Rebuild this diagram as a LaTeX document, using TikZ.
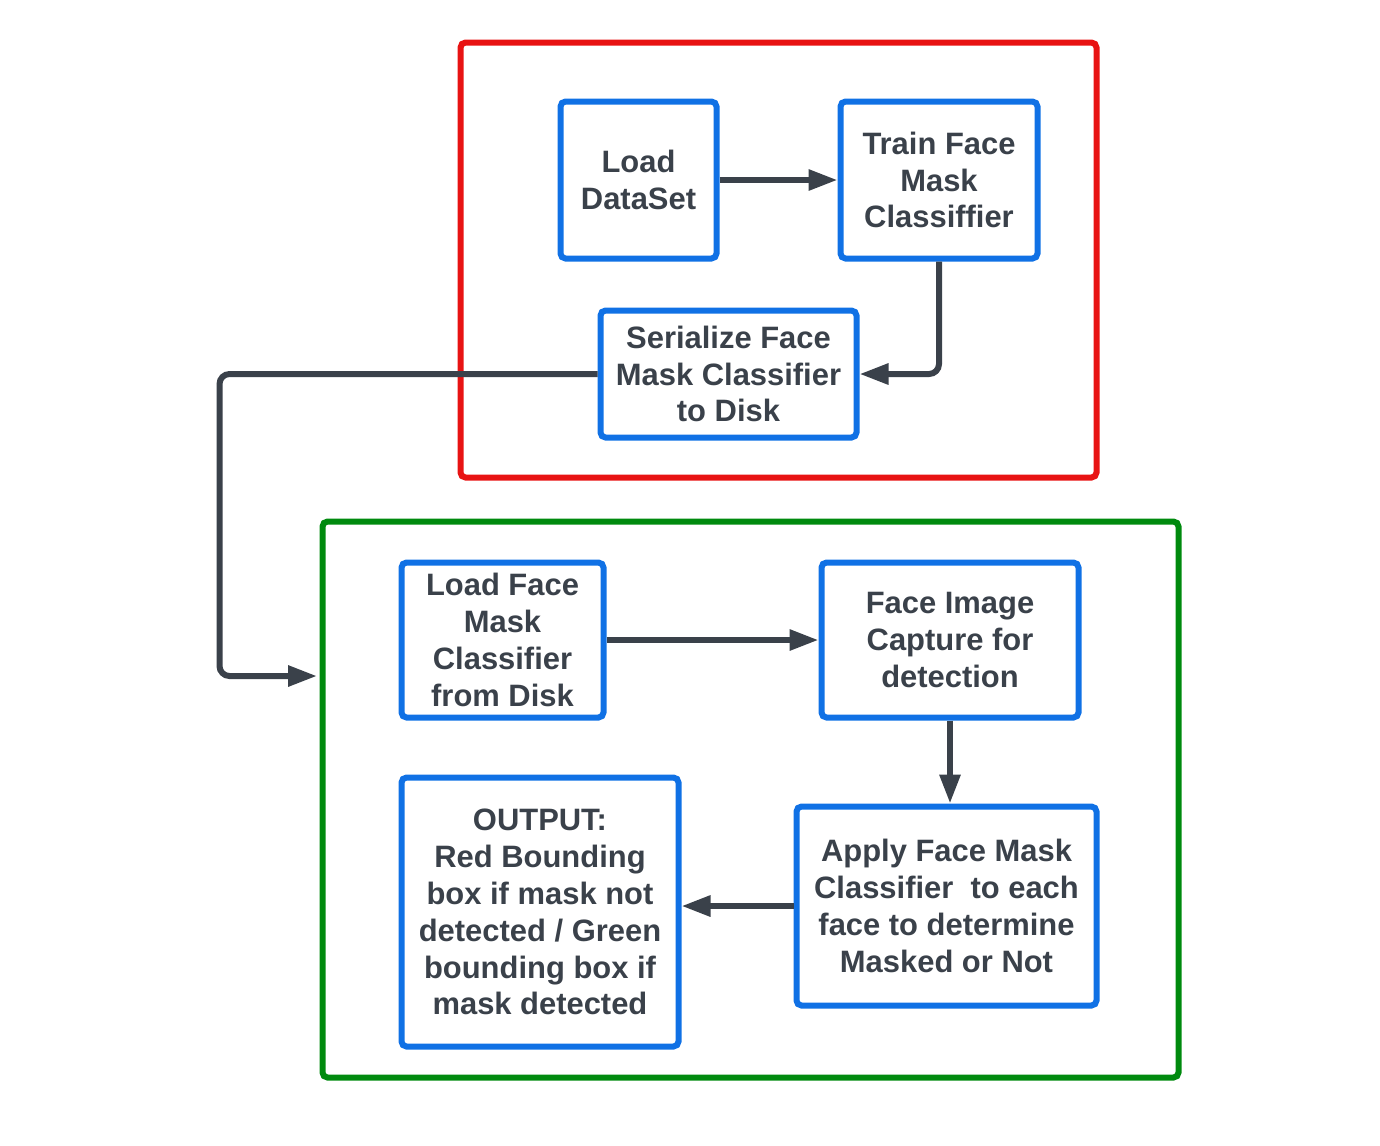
\documentclass[tikz,border=0pt]{standalone}
\usepackage{fontspec}
\setmainfont{Liberation Sans}
\usetikzlibrary{arrows.meta}
\definecolor{stepblue}{HTML}{1071E5}
\definecolor{zonered}{HTML}{E81313}
\definecolor{zonegreen}{HTML}{008A0E}
\definecolor{inkgray}{HTML}{3A414A}
\tikzset{
  stepbox/.style={draw=stepblue,line width=0.06cm,rounded corners=0.05cm,
    align=center,text=inkgray,inner sep=0pt,
    font=\fontsize{8.8}{10.5}\selectfont\bfseries},
  zone/.style={line width=0.06cm,rounded corners=0.05cm,inner sep=0pt},
  arr/.style={draw=inkgray,line width=0.06cm,rounded corners=0.1cm,
    -{Triangle[length=0.29cm,width=0.2cm]}}
}
\begin{document}
\begin{tikzpicture}
  \useasboundingbox (0,0) rectangle (13.8,-11.45);
  % the two zones
  \node[zone,draw=zonered,minimum width=6.36cm,minimum height=4.35cm] (trainzone) at (7.785,-2.60) {};
  \node[zone,draw=zonegreen,minimum width=8.56cm,minimum height=5.56cm] (detectzone) at (7.505,-7.995) {};
  % training steps
  \node[stepbox,minimum width=1.56cm,minimum height=1.57cm] (load) at (6.385,-1.80) {Load\\DataSet};
  \node[stepbox,minimum width=1.97cm,minimum height=1.57cm] (train) at (9.39,-1.80) {Train Face\\Mask\\Classiffier};
  \node[stepbox,minimum width=2.56cm,minimum height=1.27cm] (serial) at (7.285,-3.74) {Serialize Face\\Mask Classifier\\to Disk};
  % detection steps
  \node[stepbox,minimum width=2.02cm,minimum height=1.55cm] (loadfm) at (5.025,-6.40) {Load Face\\Mask\\Classifier\\from Disk};
  \node[stepbox,minimum width=2.57cm,minimum height=1.55cm] (capture) at (9.50,-6.40) {Face Image\\Capture for\\detection};
  \node[stepbox,minimum width=3.00cm,minimum height=1.99cm] (apply) at (9.465,-9.06) {Apply Face Mask\\Classifier\ \ to each\\face to determine\\Masked or Not};
  \node[stepbox,minimum width=2.77cm,minimum height=2.69cm] (output) at (5.40,-9.12) {OUTPUT:\\Red Bounding\\box if mask not\\detected / Green\\bounding box if\\mask detected};
  \coordinate (gin) at (3.17,-6.76);
  % connectors
  \draw[arr] (load) -- (train);
  \draw[arr] (train.south) |- (serial.east);
  \draw[arr] (serial.west) -- ++(-3.78,0) |- (gin);
  \draw[arr] (loadfm) -- (capture);
  \draw[arr] (capture.south) -- (capture.south |- apply.north);
  \draw[arr] (apply.west) -- (apply.west -| output.east);
\end{tikzpicture}
\end{document}
